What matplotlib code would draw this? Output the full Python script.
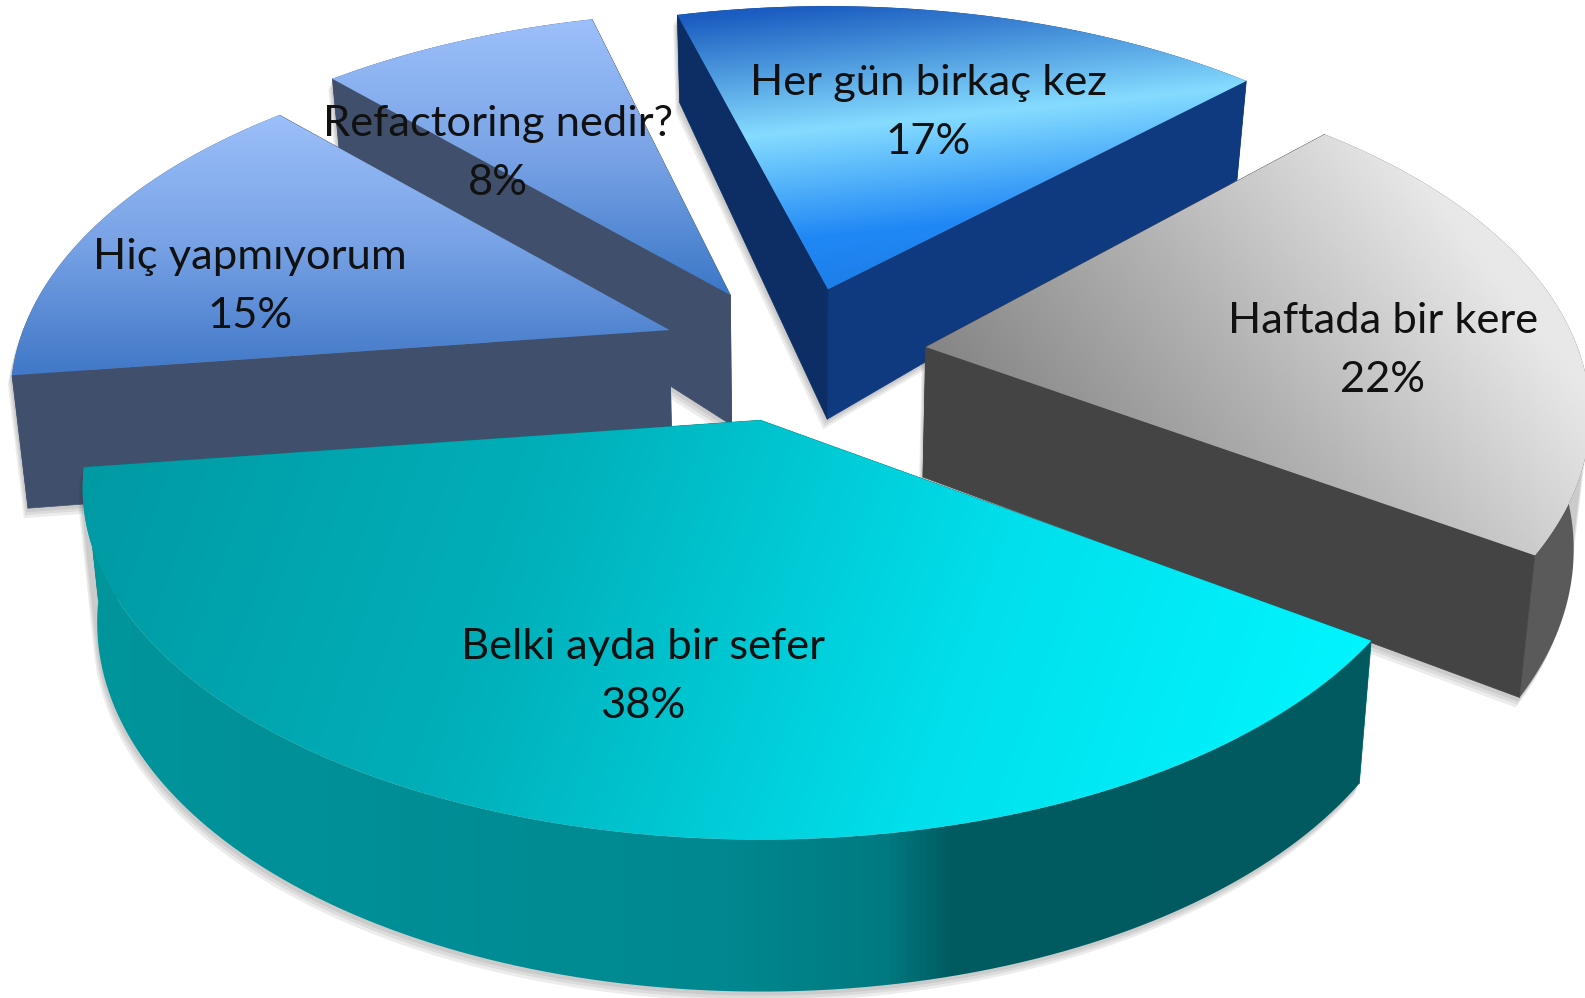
import matplotlib
matplotlib.use("Agg")
import matplotlib.pyplot as plt
import numpy as np
from matplotlib.colors import LinearSegmentedColormap
from matplotlib.patches import Polygon

labels = ["Her gün birkaç kez", "Haftada bir kere", "Belki ayda bir sefer", "Hiç yapmıyorum", "Refactoring nedir?"]
values = [17, 22, 38, 15, 8]

# where the labels sit
label_x = [928, 1383, 643, 250, 498]
label_y = [83, 321, 647, 257, 124]

# pie plane, seen in perspective (pixels of the picture)
cx, cy = 793.5, 352
rx, ry = 665, 338
persp = 0.194
explode = 0.2
start = 255.0
# small per slice corrections of the drawing
turn = [-0.6, -2.0, 0.0, 0.3, 0.7]
rx_scale = [1.0, 0.98, 1.0, 0.972, 1.0]

# gradients: start point, end point, colour stops
top_grad = [
    ((800, 5), (829, 295), [(0, "#1a5cc0"), (0.43, "#85dcff"), (0.8, "#2088f5"), (1, "#1c7ee8")]),
    ((926, 348), (1326, 48), [(0, "#858585"), (0.5, "#b4b4b4"), (1, "#e8e8e8")]),
    ((80, 464), (1300, 900), [(0, "#009aa3"), (0.35, "#00b0ba"), (0.7, "#00e0ec"), (1, "#00f6ff")]),
    ((300, 110), (300, 372), [(0, "#9cc0fa"), (0.5, "#79a3e6"), (1, "#4279c8")]),
    ((500, 18), (500, 293), [(0, "#9cc0fa"), (0.5, "#79a3e6"), (1, "#3c78c8")]),
]
rim_grad = [
    ((0, 0), (1, 0), [(0, "#0f3a80"), (1, "#0f3a80")]),
    ((0, 0), (1, 0), [(0, "#5a5a5a"), (1, "#5a5a5a")]),
    ((80, 0), (1360, 0), [(0, "#00959c"), (0.5, "#008890"), (0.63, "#007a80"), (0.68, "#005c62"), (1, "#005a60")]),
    ((0, 0), (1, 0), [(0, "#40506c"), (1, "#40506c")]),
    ((0, 0), (1, 0), [(0, "#40506c"), (1, "#40506c")]),
]
face_start = ["#0c2e64", "#444444", "#007a80", "#40506c", "#40506c"]
face_end = ["#0f3a80", "#444444", "#007a80", "#40506c", "#40506c"]
order = [4, 3, 0, 1, 2]


def project(t, scale):
    x, y = np.cos(np.radians(t)), np.sin(np.radians(t))
    w = 1 - persp * y
    return rx * scale * x / w, ry * y / w


def drop(px, py, ys):
    # lower edge of the side wall
    depth = 130 + np.where(ys > 0, 22, 44) * ys
    return px - 0.0205 * (px - 790), py + depth


def grad_fill(pts, grad, z):
    (x0, y0), (x1, y1), stops = grad
    cmap = LinearSegmentedColormap.from_list("g", stops)
    xs = np.arange(pts[:, 0].min() - 2, pts[:, 0].max() + 3, 2)
    ys = np.arange(pts[:, 1].min() - 2, pts[:, 1].max() + 3, 2)
    gx, gy = np.meshgrid(xs, ys)
    dx, dy = x1 - x0, y1 - y0
    t = ((gx - x0) * dx + (gy - y0) * dy) / (dx * dx + dy * dy)
    im = ax.imshow(cmap(np.clip(t, 0, 1)), extent=(xs[0], xs[-1], ys[-1], ys[0]),
                   origin="upper", aspect="auto", zorder=z, interpolation="bilinear")
    im.set_clip_path(Polygon(pts, transform=ax.transData))


def hull(pts):
    p = sorted(map(tuple, pts))
    def half(seq):
        out = []
        for q in seq:
            while len(out) > 1 and (out[-1][0] - out[-2][0]) * (q[1] - out[-2][1]) - (out[-1][1] - out[-2][1]) * (q[0] - out[-2][0]) <= 0:
                out.pop()
            out.append(q)
        return out[:-1]
    return np.array(half(p) + half(p[::-1]))


fig = plt.figure(figsize=(15.85, 9.98), dpi=100)
ax = fig.add_axes([0, 0, 1, 1])

angles = start + np.cumsum([0] + values) * 3.6

z = 1
for i in order:
    a0, a1 = angles[i] + turn[i], angles[i + 1] + turn[i]
    mid = (angles[i] + angles[i + 1]) / 2
    ex, ey = np.cos(np.radians(mid)) * explode, np.sin(np.radians(mid)) * explode
    w = 1 - persp * ey
    ax0, ay0 = cx + rx * ex / w, cy + ry * ey / w

    t = np.linspace(a0, a1, 120)
    px, py = project(t, rx_scale[i])
    px, py = px + ax0, py + ay0
    local_y = np.sin(np.radians(t))
    bx, by = drop(px, py, local_y)
    abx, aby = drop(np.array([ax0]), np.array([ay0]), np.array([0.0]))

    top = np.column_stack([np.r_[ax0, px], np.r_[ay0, py]])
    rim = np.column_stack([np.r_[px, bx[::-1]], np.r_[py, by[::-1]]])
    wall0 = np.array([[ax0, ay0], [px[0], py[0]], [bx[0], by[0]], [abx[0], aby[0]]])
    wall1 = np.array([[ax0, ay0], [px[-1], py[-1]], [bx[-1], by[-1]], [abx[0], aby[0]]])

    # soft shadow
    shape = hull(np.vstack([top, np.column_stack([bx, by]), [[abx[0], aby[0]]]]))
    for d in (10, 7, 4):
        ax.add_patch(Polygon(shape + [-d * 0.4, d], closed=True, fc="#303030", ec="none", alpha=0.09, zorder=z))
    z += 1

    # back slices show their walls in front of the rim, the front slice the other way round
    rim_z = z + 1 if np.sin(np.radians(mid)) > 0.5 else z
    wall_z = z if np.sin(np.radians(mid)) > 0.5 else z + 1
    grad_fill(rim, rim_grad[i], rim_z)
    ax.add_patch(Polygon(wall1, closed=True, fc=face_end[i], ec=face_end[i], lw=0.5, zorder=wall_z))
    ax.add_patch(Polygon(wall0, closed=True, fc=face_start[i], ec=face_start[i], lw=0.5, zorder=wall_z))
    z += 2
    grad_fill(top, top_grad[i], z)
    z += 1

for i in range(len(values)):
    ax.text(label_x[i], label_y[i], labels[i], ha="center", va="center", fontsize=31.3,
            family="Lato", color="#111111", zorder=z)
    ax.text(label_x[i], label_y[i] + 59, str(values[i]) + "%", ha="center", va="center", fontsize=31.3,
            family="Lato", color="#111111", zorder=z)

ax.set_xlim(0, 1585)
ax.set_ylim(998, 0)
ax.axis("off")
fig.savefig("out.png", dpi=100, facecolor="white")
